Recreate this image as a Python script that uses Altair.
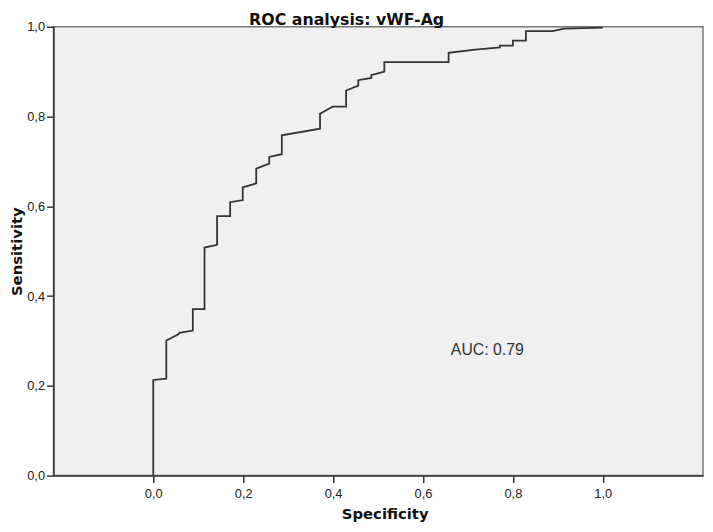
import altair as alt
import pandas as pd

# ROC curve vertices (x = specificity axis value as drawn, y = sensitivity)
spec = [0, 0, 0.029, 0.029, 0.056, 0.058, 0.088, 0.088, 0.114, 0.114, 0.142, 0.142,
        0.171, 0.171, 0.199, 0.199, 0.229, 0.229, 0.258, 0.258, 0.286, 0.286, 0.371,
        0.371, 0.399, 0.429, 0.429, 0.456, 0.456, 0.485, 0.485, 0.514, 0.514, 0.657,
        0.657, 0.716, 0.771, 0.771, 0.800, 0.800, 0.829, 0.829, 0.888, 0.914, 1.0]
sens = [0, 0.213, 0.216, 0.301, 0.315, 0.318, 0.323, 0.371, 0.371, 0.508, 0.514, 0.578,
        0.578, 0.609, 0.614, 0.642, 0.651, 0.684, 0.695, 0.710, 0.716, 0.758, 0.773,
        0.806, 0.822, 0.822, 0.858, 0.869, 0.881, 0.886, 0.892, 0.900, 0.921, 0.921,
        0.942, 0.949, 0.954, 0.958, 0.958, 0.969, 0.969, 0.990, 0.990, 0.996, 0.998]
tick_values = [0.0, 0.2, 0.4, 0.6, 0.8, 1.0]
auc_label = ["AUC: 0.79"]
auc_pos = [(0.662, 0.279)]

df = pd.DataFrame({"spec": spec, "sens": sens, "idx": list(range(len(spec)))})
df_auc = pd.DataFrame({"x": [p[0] for p in auc_pos], "y": [p[1] for p in auc_pos], "t": auc_label})

FONT = "Liberation Sans"
TFONT = "DejaVu Sans"
lab_expr = "replace(format(datum.value, '.1f'), '.', ',')"

xscale = alt.Scale(domain=[-0.222, 1.223], nice=False, zero=False)
yscale = alt.Scale(domain=[0, 1], nice=False)

line = alt.Chart(df).mark_line(color="#333333", strokeWidth=1.8, interpolate="linear").encode(
    x=alt.X("spec:Q", scale=xscale,
            axis=alt.Axis(title="Specificity", values=tick_values, labelExpr=lab_expr,
                          grid=False, tickSize=7, tickColor="#333333", tickWidth=1.5,
                          domainColor="#333333", domainWidth=1.5,
                          labelFont=FONT, labelFontSize=13, labelColor="#222222",
                          labelPadding=5, titleFont=TFONT, titleFontSize=15,
                          titleFontWeight="bold", titleColor="#111111",
                          titlePadding=6, titleX=335)),
    y=alt.Y("sens:Q", scale=yscale,
            axis=alt.Axis(title="Sensitivity", values=tick_values, labelExpr=lab_expr,
                          grid=False, tickSize=7, tickColor="#333333", tickWidth=1.5,
                          domainColor="#333333", domainWidth=1.5,
                          labelFont=FONT, labelFontSize=13, labelColor="#222222",
                          labelPadding=2, titleFont=TFONT, titleFontSize=15,
                          titleFontWeight="bold", titleColor="#111111",
                          titlePadding=2)),
    order="idx:Q",
)

auc = alt.Chart(df_auc).mark_text(align="left", baseline="middle", font=FONT,
                                  fontSize=16, color="#333333").encode(
    x=alt.X("x:Q", scale=xscale), y=alt.Y("y:Q", scale=yscale), text="t:N")

chart = alt.layer(line, auc).properties(
    width=657, height=454,
    autosize=alt.AutoSizeParams(type="none"),
    padding={"left": 46, "top": 16, "right": 2, "bottom": 46},
    background="white",
    title=alt.TitleParams("ROC analysis: vWF-Ag", font=TFONT, fontSize=16,
                          fontWeight="bold", color="#111111", anchor="middle",
                          dx=-32, dy=7, offset=0),
).configure_view(fill="#f0f0f0", stroke="#777777", strokeWidth=1.5)

chart.save("out.html", embed_options={"renderer": "svg", "actions": False})
